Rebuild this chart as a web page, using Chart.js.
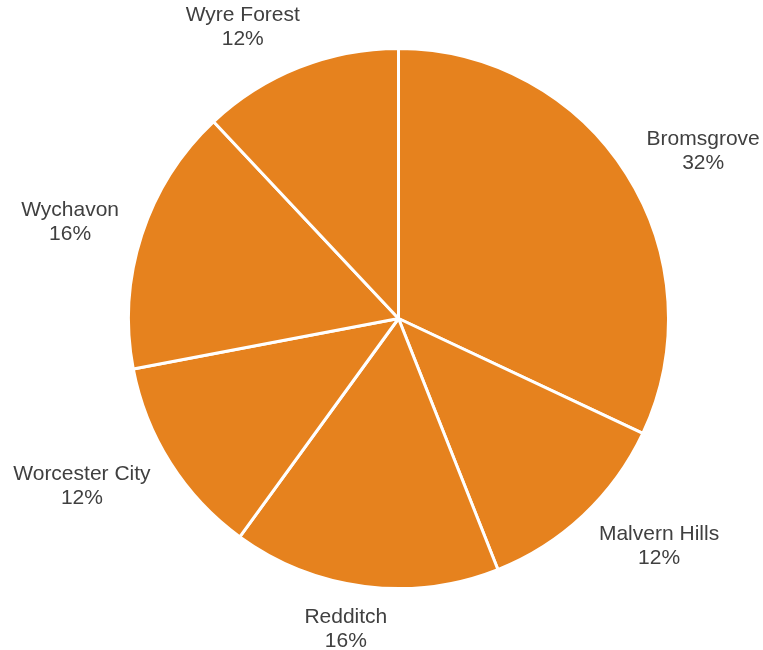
<!DOCTYPE html>
<html>
<head>
<meta charset="utf-8">
<script src="https://cdn.jsdelivr.net/npm/chart.js@4.4.1/dist/chart.umd.min.js"></script>
<style>
  html, body { margin: 0; padding: 0; background: #ffffff; }
  #wrap { width: 763px; height: 650px; }
</style>
</head>
<body>
<div id="wrap"><canvas id="pie"></canvas></div>
<script>
// District shares (percent of total)
const districts = ['Bromsgrove', 'Malvern Hills', 'Redditch', 'Worcester City', 'Wychavon', 'Wyre Forest'];
const shares = [32, 12, 16, 12, 16, 12];

const sliceColor = '#E6821E';
const labelColor = '#404040';
const labelFont = '21px "Liberation Sans", Arial, sans-serif';

// Draws "name\npct%" outside each slice, the text box pushed away from
// the ring just outside the slice edge
const outsideLabels = {
    id: 'outsideLabels',
    afterDatasetsDraw(chart) {
        const ctx = chart.ctx;
        const meta = chart.getDatasetMeta(0);
        const total = shares.reduce((a, b) => a + b, 0);
        ctx.save();
        ctx.font = labelFont;
        ctx.fillStyle = labelColor;
        ctx.textAlign = 'center';
        ctx.textBaseline = 'middle';
        const lineH = 24;
        meta.data.forEach((arc, i) => {
            const mid = (arc.startAngle + arc.endAngle) / 2;
            const pct = Math.round(shares[i] / total * 100) + '%';
            const w = Math.max(ctx.measureText(districts[i]).width, ctx.measureText(pct).width);
            const h = lineH * 2 - 2;
            const dx = Math.cos(mid), dy = Math.sin(mid);
            const d = arc.outerRadius + 20;
            const x = arc.x + d * dx + (w / 2 + 4) * Math.tanh(dx * 3);
            const y = arc.y + d * dy + (h / 2) * dy;
            ctx.fillText(districts[i], x, y - lineH / 2);
            ctx.fillText(pct, x, y + lineH / 2);
        });
        ctx.restore();
    }
};

new Chart(document.getElementById('pie'), {
    type: 'pie',
    data: {
        labels: districts,
        datasets: [{
            data: shares,
            backgroundColor: sliceColor,
            borderColor: '#ffffff',
            borderWidth: 3
        }]
    },
    options: {
        responsive: true,
        maintainAspectRatio: false,
        animation: false,
        layout: { padding: { top: 47, bottom: 60, left: 127, right: 93 } },
        plugins: {
            legend: { display: false },
            tooltip: { enabled: false }
        }
    },
    plugins: [outsideLabels]
});
</script>
</body>
</html>
